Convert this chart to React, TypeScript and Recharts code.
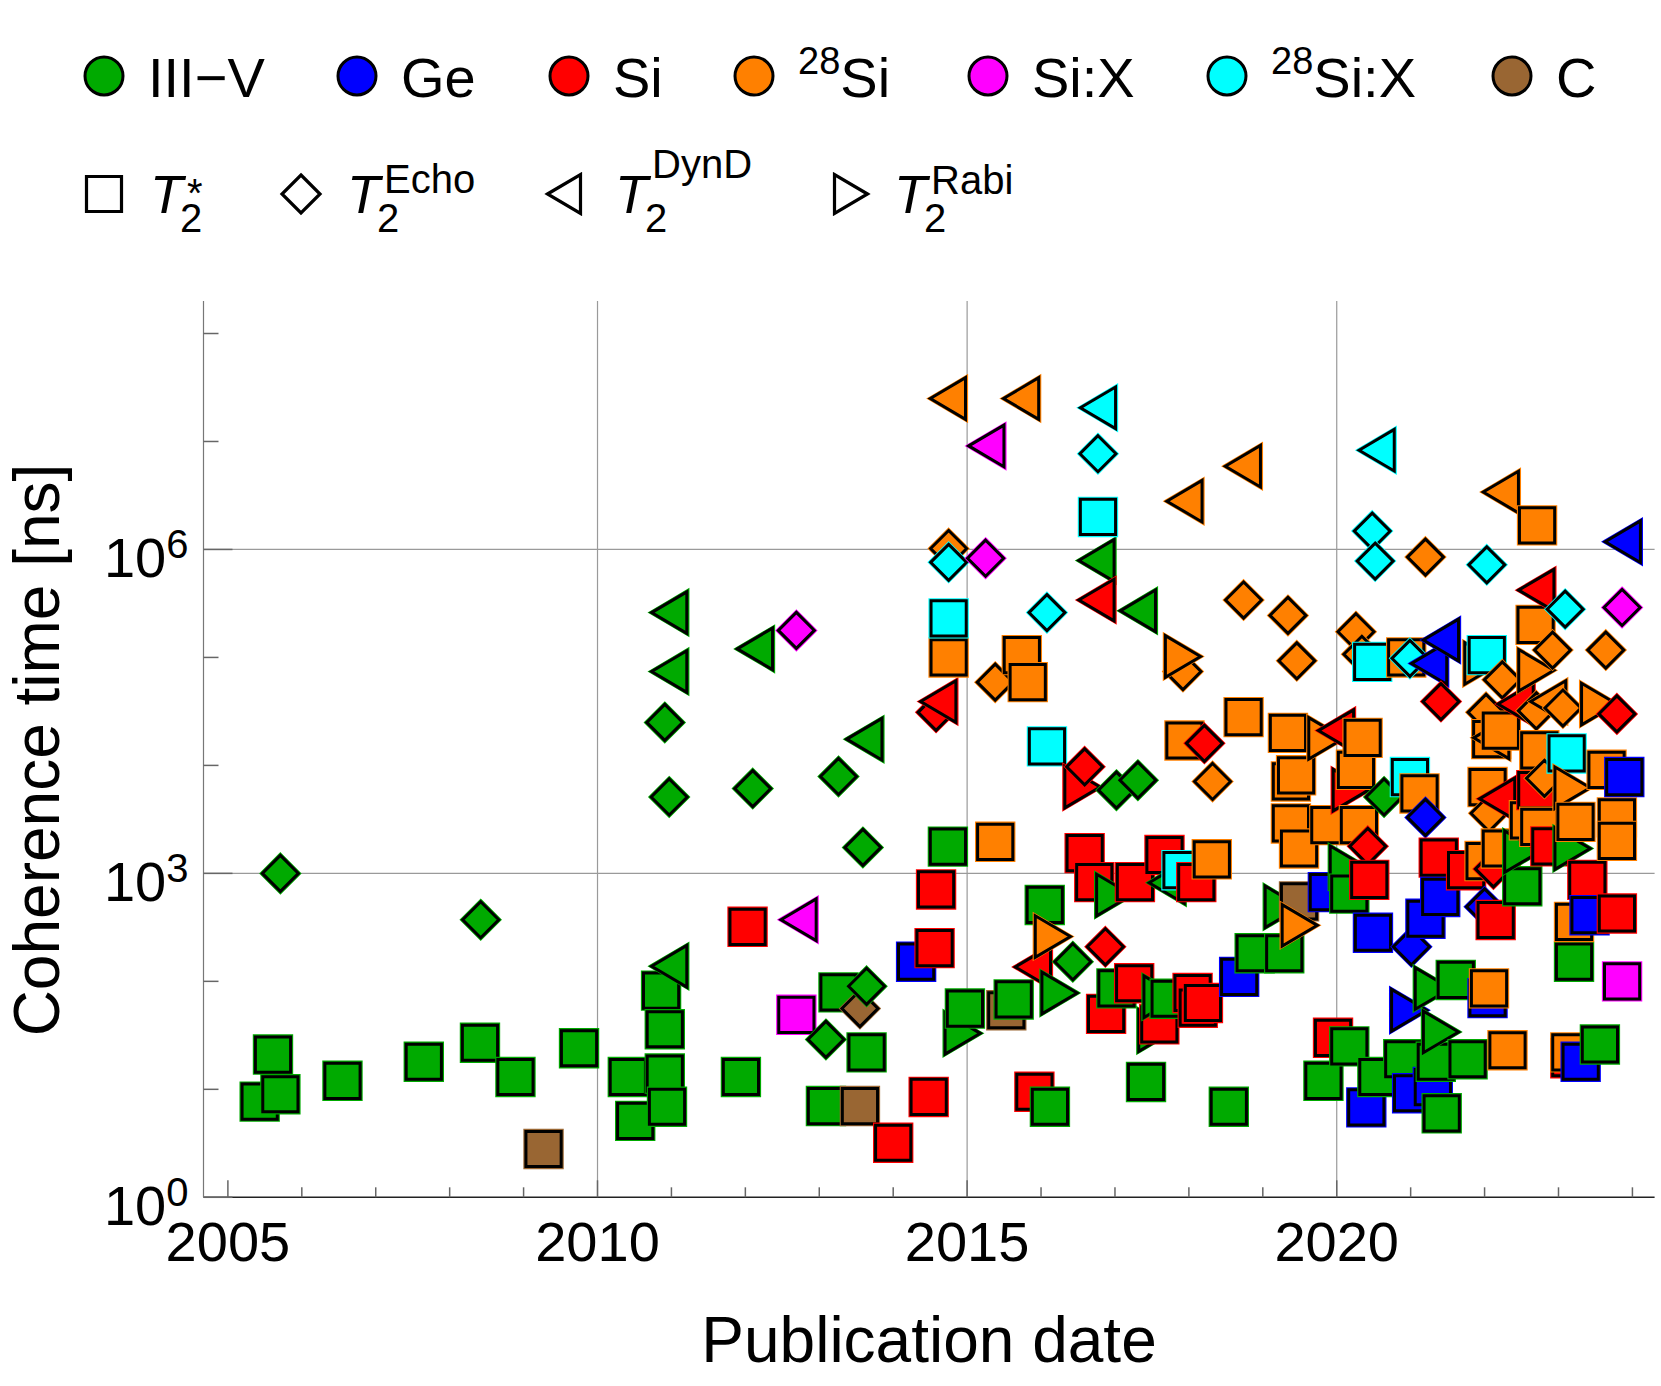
import { ScatterChart, Scatter, XAxis, YAxis, ReferenceLine } from 'recharts';

const FONT = '"Liberation Sans", Arial, Helvetica, sans-serif';

const GREEN = '#00aa00';
const BLUE = '#0000ff';
const RED = '#ff0000';
const ORANGE = '#ff8000';
const MAGENTA = '#ff00ff';
const CYAN = '#00ffff';
const BROWN = '#996633';

type Kind = 'square' | 'diamond' | 'left' | 'right';
type Pt = [number, number]; // [publication year, coherence time in ns]

// III-V
const iiiVStar: Pt[] = [
  [2005.43, 7.7], [2005.61, 21], [2005.71, 9], [2006.55, 12], [2007.65, 18], [2008.41, 27], [2008.89, 13],
  [2009.75, 24], [2010.41, 13], [2010.51, 5.1], [2010.86, 82], [2010.91, 36], [2010.91, 14], [2010.94, 6.9],
  [2011.94, 13], [2013.09, 7], [2013.26, 79], [2013.64, 22], [2014.74, 1770], [2014.97, 56], [2015.63, 68],
  [2016.05, 510], [2016.12, 6.9], [2017.02, 86], [2017.42, 11.7], [2017.74, 69], [2018.54, 6.9], [2018.89, 182],
  [2019.29, 182], [2019.82, 12], [2020.17, 650], [2020.17, 25], [2020.55, 13], [2020.9, 19], [2021.34, 18],
  [2021.77, 19], [2021.42, 6], [2021.61, 103], [2022.51, 760], [2023.21, 152], [2023.56, 26],
];
const iiiVEcho: Pt[] = [
  [2005.71, 1000], [2008.42, 372], [2010.91, 25000], [2010.97, 5100], [2012.1, 6100], [2013.09, 29],
  [2013.26, 7900], [2013.59, 1740], [2013.64, 90], [2016.43, 152], [2017.02, 5900], [2017.31, 7300], [2020.64, 5100],
];
const iiiVDynD: Pt[] = [
  [2010.97, 260000], [2010.97, 74000], [2010.97, 138], [2012.13, 120000], [2013.61, 17500],
  [2016.75, 790000], [2017.31, 270000], [2017.7, 820],
];
const iiiVRabi: Pt[] = [
  [2014.94, 33], [2016.25, 78], [2016.99, 630], [2017.56, 35], [2017.63, 72], [2019.27, 490],
  [2020.15, 1150], [2021.3, 86], [2021.41, 34], [2022.51, 1590], [2023.19, 1700],
];

// Ge
const geStar: Pt[] = [
  [2014.31, 152], [2018.68, 110], [2019.88, 670], [2020.4, 6.8], [2020.49, 282], [2021.02, 9.2], [2021.3, 10.5],
  [2021.2, 380], [2021.4, 605], [2022.04, 70], [2023.3, 18], [2023.42, 410], [2023.89, 7800],
];
const geEcho: Pt[] = [[2021.01, 209], [2021.2, 3300], [2022.0, 490]];
const geDynD: Pt[] = [[2021.25, 88000], [2021.41, 145000], [2023.87, 1180000]];
const geRabi: Pt[] = [[2020.98, 54]];

// Si
const siStar: Pt[] = [
  [2012.03, 320], [2014.0, 3.2], [2014.48, 8.5], [2014.56, 203], [2014.58, 710], [2015.91, 9.5], [2016.59, 1540],
  [2016.72, 830], [2016.88, 50], [2017.26, 96], [2017.27, 830], [2017.6, 40], [2017.67, 1480], [2018.05, 78],
  [2018.1, 830], [2018.12, 57], [2018.19, 63], [2019.95, 30], [2020.44, 870], [2021.38, 1400], [2021.75, 1070],
  [2022.15, 370], [2022.7, 5900], [2022.89, 1780], [2023.16, 19.4], [2023.39, 870], [2023.79, 425],
];
const siEcho: Pt[] = [
  [2014.58, 31000], [2016.59, 9700], [2016.87, 209], [2018.21, 16000], [2020.42, 1780], [2021.41, 39000],
  [2022.12, 1100], [2023.79, 30000],
];
const siDynD: Pt[] = [
  [2014.61, 39000], [2015.89, 136], [2016.75, 340000], [2019.99, 21000], [2022.17, 4900], [2022.42, 37000], [2022.7, 420000],
];
const siRabi: Pt[] = [[2016.56, 6300], [2020.19, 5900]];

// 28Si
const si28Star: Pt[] = [
  [2014.75, 100000], [2015.38, 1960], [2015.74, 105000], [2015.82, 59000], [2017.94, 17000], [2018.31, 1350],
  [2018.74, 28000], [2019.34, 20000], [2019.38, 7100], [2019.38, 2900], [2019.45, 8100], [2019.49, 1700],
  [2019.9, 2800], [2020.26, 9100], [2020.3, 2800], [2020.35, 18000], [2020.94, 100000], [2021.12, 5500],
  [2022.0, 1300], [2022.04, 6300], [2022.06, 86], [2022.09, 17500], [2022.22, 21000], [2022.22, 1700],
  [2022.31, 23], [2022.6, 3100], [2022.69, 200000], [2022.71, 1670000], [2022.74, 13800], [2022.74, 2700],
  [2023.16, 22], [2023.21, 355], [2023.23, 3000], [2023.65, 9100], [2023.79, 3300], [2023.79, 2000],
];
const si28Echo: Pt[] = [
  [2014.75, 1020000], [2015.38, 59000], [2017.92, 74000], [2018.32, 7100], [2018.74, 340000], [2019.34, 245000],
  [2019.46, 93000], [2020.26, 173000], [2020.34, 107000], [2021.2, 850000], [2022.02, 31000], [2022.06, 3600],
  [2022.24, 62000], [2022.7, 32000], [2022.81, 7600], [2022.92, 117000], [2023.06, 34000], [2023.64, 117000],
];
const si28DynD: Pt[] = [
  [2014.74, 25000000], [2015.73, 25000000], [2017.94, 2800000], [2018.73, 5900000], [2022.09, 18000],
  [2022.22, 3400000], [2022.86, 39000],
];
const si28Rabi: Pt[] = [
  [2016.16, 260], [2017.92, 102000], [2019.5, 330], [2019.86, 17800], [2021.97, 88000], [2022.7, 76000],
  [2023.19, 6200], [2023.55, 37000],
];

// Si:X
const siXStar: Pt[] = [[2012.69, 49], [2023.86, 100]];
const siXEcho: Pt[] = [[2012.69, 178000], [2015.25, 830000], [2023.86, 290000]];
const siXDynD: Pt[] = [[2012.72, 372], [2015.26, 9100000]];

// 28Si:X
const si28XStar: Pt[] = [
  [2014.75, 230000], [2016.08, 15000], [2016.77, 2000000], [2017.9, 1070], [2020.48, 91000], [2020.99, 7800],
  [2022.03, 105000], [2023.11, 12900],
];
const si28XEcho: Pt[] = [
  [2014.75, 760000], [2016.08, 260000], [2016.77, 7700000], [2020.48, 1480000], [2020.52, 780000],
  [2020.99, 98000], [2022.03, 720000], [2023.09, 280000],
];
const si28XDynD: Pt[] = [[2016.77, 20500000], [2020.54, 8300000]];

// C
const cStar: Pt[] = [[2009.27, 2.8], [2013.55, 7], [2015.53, 54], [2019.49, 550]];
const cEcho: Pt[] = [[2013.55, 56]];

const yearTicks = [2005, 2006, 2007, 2008, 2009, 2010, 2011, 2012, 2013, 2014, 2015, 2016, 2017, 2018, 2019, 2020, 2021, 2022, 2023, 2024];
const decadeTicks = [1, 10, 100, 1e3, 1e4, 1e5, 1e6, 1e7, 1e8];
const labelledDecades: Record<number, string> = { 1: '0', 1000: '3', 1000000: '6' };
const gridYears = [2010, 2015, 2020];
const gridValues = [1e3, 1e6];

const materials = [
  { label: 'III\u2212V', sup: '', color: GREEN },
  { label: 'Ge', sup: '', color: BLUE },
  { label: 'Si', sup: '', color: RED },
  { label: 'Si', sup: '28', color: ORANGE },
  { label: 'Si:X', sup: '', color: MAGENTA },
  { label: 'Si:X', sup: '28', color: CYAN },
  { label: 'C', sup: '', color: BROWN },
];
const materialX = [104, 357, 569, 754, 988, 1227, 1512];

// coherence-time kinds for the second legend row
const kinds: { kind: Kind; sup: string; x: number; supY: number }[] = [
  { kind: 'square', sup: '*', x: 104, supY: 207 },
  { kind: 'diamond', sup: 'Echo', x: 301, supY: 193 },
  { kind: 'left', sup: 'DynD', x: 564, supY: 178 },
  { kind: 'right', sup: 'Rabi', x: 851, supY: 194 },
];
const kindTextX = [150, 347, 615, 894];

const series: { color: string; kind: Kind; pts: Pt[] }[] = [
  { color: GREEN, kind: 'square', pts: iiiVStar },
  { color: GREEN, kind: 'diamond', pts: iiiVEcho },
  { color: GREEN, kind: 'left', pts: iiiVDynD },
  { color: GREEN, kind: 'right', pts: iiiVRabi },
  { color: BLUE, kind: 'square', pts: geStar },
  { color: BLUE, kind: 'diamond', pts: geEcho },
  { color: BLUE, kind: 'left', pts: geDynD },
  { color: BLUE, kind: 'right', pts: geRabi },
  { color: RED, kind: 'square', pts: siStar },
  { color: RED, kind: 'diamond', pts: siEcho },
  { color: RED, kind: 'left', pts: siDynD },
  { color: RED, kind: 'right', pts: siRabi },
  { color: ORANGE, kind: 'square', pts: si28Star },
  { color: ORANGE, kind: 'diamond', pts: si28Echo },
  { color: ORANGE, kind: 'left', pts: si28DynD },
  { color: ORANGE, kind: 'right', pts: si28Rabi },
  { color: MAGENTA, kind: 'square', pts: siXStar },
  { color: MAGENTA, kind: 'diamond', pts: siXEcho },
  { color: MAGENTA, kind: 'left', pts: siXDynD },
  { color: CYAN, kind: 'square', pts: si28XStar },
  { color: CYAN, kind: 'diamond', pts: si28XEcho },
  { color: CYAN, kind: 'left', pts: si28XDynD },
  { color: BROWN, kind: 'square', pts: cStar },
  { color: BROWN, kind: 'diamond', pts: cEcho },
];

// drawn in publication order, later papers on top
const points = series
  .flatMap((s) => s.pts.map(([year, value]) => ({ year, value, color: s.color, kind: s.kind })))
  .sort((a, b) => a.year - b.year);

function shapePath(kind: Kind, r: number) {
  const h = r * 1.18;
  switch (kind) {
    case 'square':
      return `M${-r},${-r}H${r}V${r}H${-r}Z`;
    case 'diamond':
      return `M0,${-r}L${r},0L0,${r}L${-r},0Z`;
    case 'left':
      return `M${-r},0L${r},${-h}L${r},${h}Z`;
    default:
      return `M${r},0L${-r},${-h}L${-r},${h}Z`;
  }
}

function Marker({ cx, cy, kind, color }: { cx: number; cy: number; kind: Kind; color: string }) {
  const r = kind === 'diamond' ? 18 : 17.6;
  return (
    <g transform={`translate(${cx},${cy})`}>
      <path d={shapePath(kind, r + 1)} fill={color} stroke={color} strokeWidth={3.2} />
      <path d={shapePath(kind, r)} fill={color} stroke="#000" strokeWidth={3} />
    </g>
  );
}

const renderPoint = (props: any) => {
  const { cx, cy, payload } = props;
  if (cx == null || cy == null) return <g />;
  return <Marker cx={cx} cy={cy} kind={payload.kind} color={payload.color} />;
};

function XTick(props: any) {
  const { x, y, payload } = props;
  const yr = payload.value as number;
  const major = yr % 5 === 0;
  return (
    <g>
      <line x1={x} x2={x} y1={y} y2={y - (major ? 17 : 10)} stroke="#666" strokeWidth={1.5} />
      {major && (
        <text x={x} y={y + 64} textAnchor="middle" fontSize={56} fontFamily={FONT} fill="#000">
          {yr}
        </text>
      )}
    </g>
  );
}

function YTick(props: any) {
  const { x, y, payload } = props;
  const exp = labelledDecades[payload.value as number];
  return (
    <g>
      <line x1={x} x2={x + (exp ? 29 : 15)} y1={y} y2={y} stroke="#666" strokeWidth={1.5} />
      {exp && (
        <text x={x - 15} y={y + 28} textAnchor="end" fontSize={56} fontFamily={FONT} fill="#000">
          10
          <tspan dy={-19} fontSize={40}>
            {exp}
          </tspan>
        </text>
      )}
    </g>
  );
}

function LegendAndTitles() {
  return (
    <svg width={1661} height={1386} style={{ position: 'absolute', left: 0, top: 0, pointerEvents: 'none' }}>
      <g fontFamily={FONT} fill="#000">
        {materials.map((m, i) => (
          <g key={i}>
            <circle cx={materialX[i]} cy={76} r={19} fill={m.color} stroke="#000" strokeWidth={3} />
            <text x={materialX[i] + 44} y={97} fontSize={56}>
              {m.sup && <tspan fontSize={38} dy={-23}>{m.sup}</tspan>}
              {m.sup ? <tspan dy={23}>{m.label}</tspan> : m.label}
            </text>
          </g>
        ))}

        {kinds.map((k, i) => {
          const tx = kindTextX[i];
          return (
            <g key={k.kind}>
              <path
                d={shapePath(k.kind, k.kind === 'diamond' ? 19 : k.kind === 'square' ? 17.5 : 16.5)}
                transform={`translate(${k.x},194)`}
                fill="#fff"
                stroke="#000"
                strokeWidth={3.2}
              />
              <text fontSize={40}>
                <tspan x={tx} y={213} fontSize={54} fontStyle="italic">T</tspan>
                <tspan x={tx + 30} y={232}>2</tspan>
                <tspan x={tx + 37} y={k.supY}>{k.sup}</tspan>
              </text>
            </g>
          );
        })}

        <text x={929} y={1362} fontSize={64} textAnchor="middle">
          Publication date
        </text>
        <text transform="translate(59,750) rotate(-90)" fontSize={64} textAnchor="middle">
          Coherence time [ns]
        </text>
      </g>
    </svg>
  );
}

export default function App() {
  return (
    <div style={{ position: 'absolute', left: 0, top: 0, width: 1661, height: 1386, background: '#fff' }}>
      <ScatterChart width={1661} height={1386} margin={{ top: 301, right: 6.4, bottom: 0, left: 0 }}>
        <XAxis
          type="number"
          dataKey="year"
          domain={[2004.67, 2024.3]}
          ticks={yearTicks}
          interval={0}
          height={188.7}
          tickSize={0}
          tickMargin={0}
          tickLine={false}
          tick={<XTick />}
          axisLine={{ stroke: '#222', strokeWidth: 1.6 }}
          allowDataOverflow
        />
        <YAxis
          type="number"
          dataKey="value"
          scale="log"
          domain={[1, 2e8]}
          ticks={decadeTicks}
          interval={0}
          width={203.5}
          tickSize={0}
          tickMargin={0}
          tickLine={false}
          tick={<YTick />}
          axisLine={{ stroke: '#777', strokeWidth: 1.2 }}
          allowDataOverflow
        />
        {gridYears.map((yr) => (
          <ReferenceLine key={yr} x={yr} stroke="#9a9a9a" strokeWidth={1.2} />
        ))}
        {gridValues.map((v) => (
          <ReferenceLine key={v} y={v} stroke="#9a9a9a" strokeWidth={1.2} />
        ))}
        <Scatter data={points} shape={renderPoint} isAnimationActive={false} />
      </ScatterChart>
      <LegendAndTitles />
    </div>
  );
}
